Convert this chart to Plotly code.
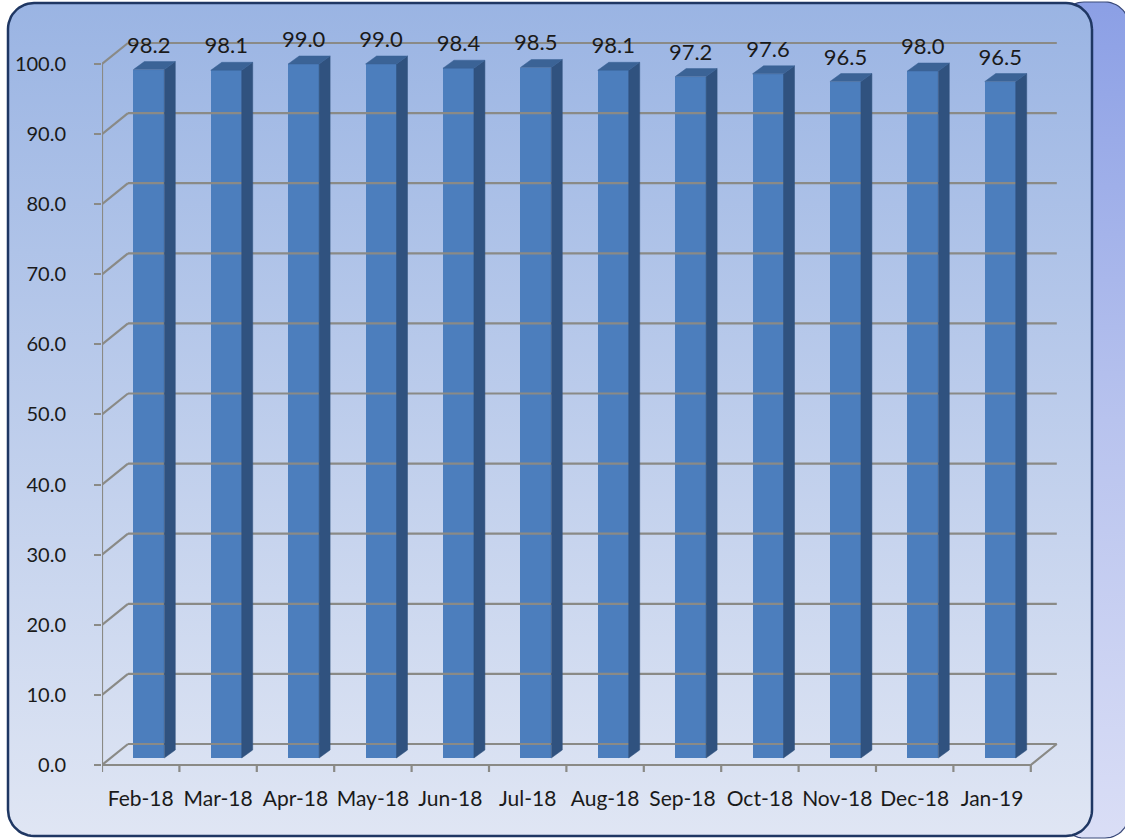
import numpy as np
import plotly.graph_objects as go

# ---------------- data ----------------
months = ["Feb-18", "Mar-18", "Apr-18", "May-18", "Jun-18", "Jul-18",
          "Aug-18", "Sep-18", "Oct-18", "Nov-18", "Dec-18", "Jan-19"]
values = [98.2, 98.1, 99.0, 99.0, 98.4, 98.5, 98.1, 97.2, 97.6, 96.5, 98.0, 96.5]
y_tick_vals = [0, 10, 20, 30, 40, 50, 60, 70, 80, 90, 100]
y_tick_text = [f"{v:.1f}" for v in y_tick_vals]

# ---------------- geometry / style ----------------
W, H = 1125, 840
FONT = "Lato"
X0_PX, CAT_PX = 102.0, 77.4      # left axis pixel, pixels per category
Y0_PX, UNIT_PX = 765.0, 7.01     # zero-line pixel, pixels per value unit
x_lo, x_hi = -0.5, 12.0
y_lo, y_hi = -1.6, 106.3

xd0 = X0_PX / W
xd1 = (X0_PX + (x_hi - x_lo) * CAT_PX) / W
yd0 = (H - (Y0_PX - y_lo * UNIT_PX)) / H
yd1 = (H - (Y0_PX - y_hi * UNIT_PX)) / H

BACK_DX, BACK_DY = 26 / CAT_PX, 21 / UNIT_PX     # back-wall depth offset
BAR_SHIFT, BAR_W, BAR_BASE = 0.105, 0.40, 1.0
SIDE_DX, SIDE_DY = 11 / CAT_PX, 8 / UNIT_PX

GRID = "#8a8a86"
FRONT = "#4c7ebd"
SIDE = "#30527f"
TOP = "#3b6396"

n = len(months)
fig = go.Figure()


# ---------------- background panels (full-canvas subplot) ----------------
def rounded_rect(x0, y0, x1, y1, r, npts=14):
    xs, ys = [], []
    corners = [(x1 - r, y1 - r, 0, 90), (x0 + r, y1 - r, 90, 180),
               (x0 + r, y0 + r, 180, 270), (x1 - r, y0 + r, 270, 360)]
    for cx, cy, a0, a1 in corners:
        t = np.radians(np.linspace(a0, a1, npts))
        xs += list(cx + r * np.cos(t))
        ys += list(cy + r * np.sin(t))
    xs.append(xs[0]); ys.append(ys[0])
    return xs, ys


bx, by = rounded_rect(1060, 2, 1129, 838, 24)
fig.add_trace(go.Scatter(x=bx, y=by, mode="lines", fill="toself",
                         line=dict(color="#3a4a7a", width=1.2),
                         fillgradient=dict(type="vertical", start=0, stop=H,
                                           colorscale=[[0, "#dadef6"], [0.5, "#b8c3ee"], [1, "#8b9fe5"]]),
                         hoverinfo="skip", showlegend=False, xaxis="x", yaxis="y"))
px_, py_ = rounded_rect(8, 4, 1092, 837, 26)
fig.add_trace(go.Scatter(x=px_, y=py_, mode="lines", fill="toself",
                         line=dict(color="#1f3763", width=2.5),
                         fillgradient=dict(type="vertical", start=0, stop=H,
                                           colorscale=[[0, "#e0e6f4"], [1, "#9ab4e3"]]),
                         hoverinfo="skip", showlegend=False, xaxis="x", yaxis="y"))

# ---------------- chart frame lines ----------------
gx, gy = [], []
left, right = -0.5, n - 0.5
for v in y_tick_vals:
    # back-wall horizontal gridline
    gx += [left + BACK_DX, right + BACK_DX, None]
    gy += [v + BACK_DY, v + BACK_DY, None]
    # left-wall diagonal
    gx += [left, left + BACK_DX, None]
    gy += [v, v + BACK_DY, None]
# floor front edge and right diagonal
gx += [left, right, right + BACK_DX, None]
gy += [0, 0, BACK_DY, None]
# vertical axis line
gx += [left, left, None]
gy += [0, 100, None]
# category tick marks
for k in range(n + 1):
    gx += [left + k, left + k, None]
    gy += [0, -1.0, None]
fig.add_trace(go.Scatter(x=gx, y=gy, mode="lines", line=dict(color=GRID, width=2.2),
                         hoverinfo="skip", showlegend=False, xaxis="x2", yaxis="y2"))

# ---------------- 3D bar faces ----------------
sx, sy, tx, ty = [], [], [], []
for i, v in enumerate(values):
    x0 = i + BAR_SHIFT - BAR_W / 2
    x1 = i + BAR_SHIFT + BAR_W / 2
    top = BAR_BASE + v
    sx += [x1, x1 + SIDE_DX, x1 + SIDE_DX, x1, x1, None]
    sy += [BAR_BASE, BAR_BASE + SIDE_DY, top + SIDE_DY, top, BAR_BASE, None]
    tx += [x0, x1, x1 + SIDE_DX, x0 + SIDE_DX, x0, None]
    ty += [top, top, top + SIDE_DY, top + SIDE_DY, top, None]
fig.add_trace(go.Scatter(x=sx, y=sy, mode="lines", fill="toself", fillcolor=SIDE,
                         line=dict(color=SIDE, width=0.5), hoverinfo="skip",
                         showlegend=False, xaxis="x2", yaxis="y2"))
fig.add_trace(go.Scatter(x=tx, y=ty, mode="lines", fill="toself", fillcolor=TOP,
                         line=dict(color=TOP, width=0.5), hoverinfo="skip",
                         showlegend=False, xaxis="x2", yaxis="y2"))

fig.add_trace(go.Bar(x=[i + BAR_SHIFT for i in range(n)], y=values, base=BAR_BASE,
                     width=BAR_W, marker=dict(color=FRONT, line=dict(width=0)),
                     showlegend=False, xaxis="x2", yaxis="y2"))

# value labels
fig.add_trace(go.Scatter(x=[i + BAR_SHIFT for i in range(n)],
                         y=[v + BAR_BASE + SIDE_DY + 0.5 for v in values],
                         mode="text", text=[f"{v:.1f}" for v in values],
                         textposition="top center", cliponaxis=False,
                         textfont=dict(family=FONT, size=22, color="#1a1a1a"),
                         hoverinfo="skip", showlegend=False, xaxis="x2", yaxis="y2"))

fig.update_layout(
    width=W, height=H,
    margin=dict(l=0, r=0, t=0, b=0),
    paper_bgcolor="white", plot_bgcolor="rgba(0,0,0,0)",
    bargap=0,
    xaxis=dict(domain=[0, 1], range=[0, W], visible=False, fixedrange=True),
    yaxis=dict(domain=[0, 1], range=[0, H], visible=False, fixedrange=True),
    xaxis2=dict(domain=[xd0, xd1], range=[x_lo, x_hi], anchor="y2",
                tickvals=list(range(n)), ticktext=months, ticks="",
                showgrid=False, zeroline=False, showline=False,
                ticklabelstandoff=8,
                tickfont=dict(family=FONT, size=21, color="#1a1a1a")),
    yaxis2=dict(domain=[yd0, yd1], range=[y_lo, y_hi], anchor="x2",
                tickvals=y_tick_vals, ticktext=y_tick_text,
                ticks="outside", ticklen=7, tickwidth=2.2, tickcolor=GRID,
                showgrid=False, zeroline=False, showline=False,
                ticklabelstandoff=24,
                tickfont=dict(family=FONT, size=20, color="#1a1a1a")),
    hovermode=False,
)

fig.write_html("out.html")
